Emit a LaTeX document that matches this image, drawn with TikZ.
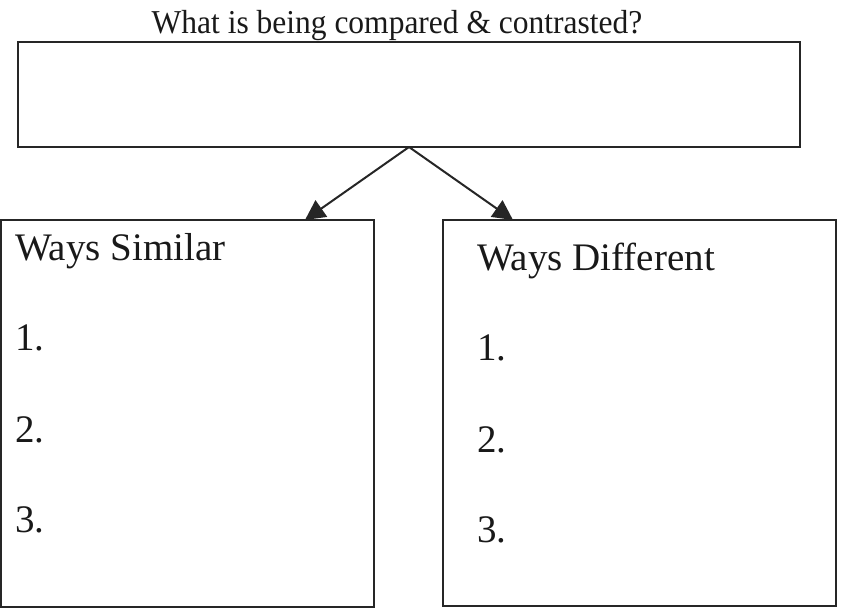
\documentclass[tikz,border=0pt]{standalone}
\usepackage{fontspec}
\setmainfont{Liberation Serif}
\usetikzlibrary{arrows.meta}
\begin{document}
\begin{tikzpicture}[x=1bp,y=-1bp,
  boxstyle/.style={draw=black!85,line width=2bp,inner sep=0pt,outer sep=0pt},
  arr/.style={draw=black!85,line width=2bp,-{Triangle[length=20bp,width=20bp]}},
  lbl/.style={anchor=base west,inner sep=0pt,font=\fontsize{39bp}{46bp}\selectfont,text=black!90},
  ttl/.style={anchor=base,inner sep=0pt,font=\fontsize{31.5bp}{38bp}\selectfont,text=black!90}]
\useasboundingbox (0,0) rectangle (846,609);
\node[boxstyle,minimum width=782bp,minimum height=105bp] (T) at (409,94.5) {};
\node[boxstyle,minimum width=373bp,minimum height=387bp] (L) at (187.5,413.5) {};
\node[boxstyle,minimum width=393bp,minimum height=386bp] (R) at (639.5,413) {};
\node[ttl] (title) at (397,34) {\scalebox{1}[1.06]{What is being compared \& contrasted?}};
\draw[arr] (T.south) -- ([xshift=-69bp]L.north east);
\draw[arr] (T.south) -- ([xshift=70bp]R.north west);
\node[lbl] (ls) at (15,260) {Ways Similar};
\node[lbl] (l1) at (15,350) {1.};
\node[lbl] (l2) at (15,442) {2.};
\node[lbl] (l3) at (15,532) {3.};
\node[lbl] (rd) at (477,270) {Ways Different};
\node[lbl] (r1) at (477,360) {1.};
\node[lbl] (r2) at (477,452) {2.};
\node[lbl] (r3) at (477,542) {3.};
\end{tikzpicture}
\end{document}
